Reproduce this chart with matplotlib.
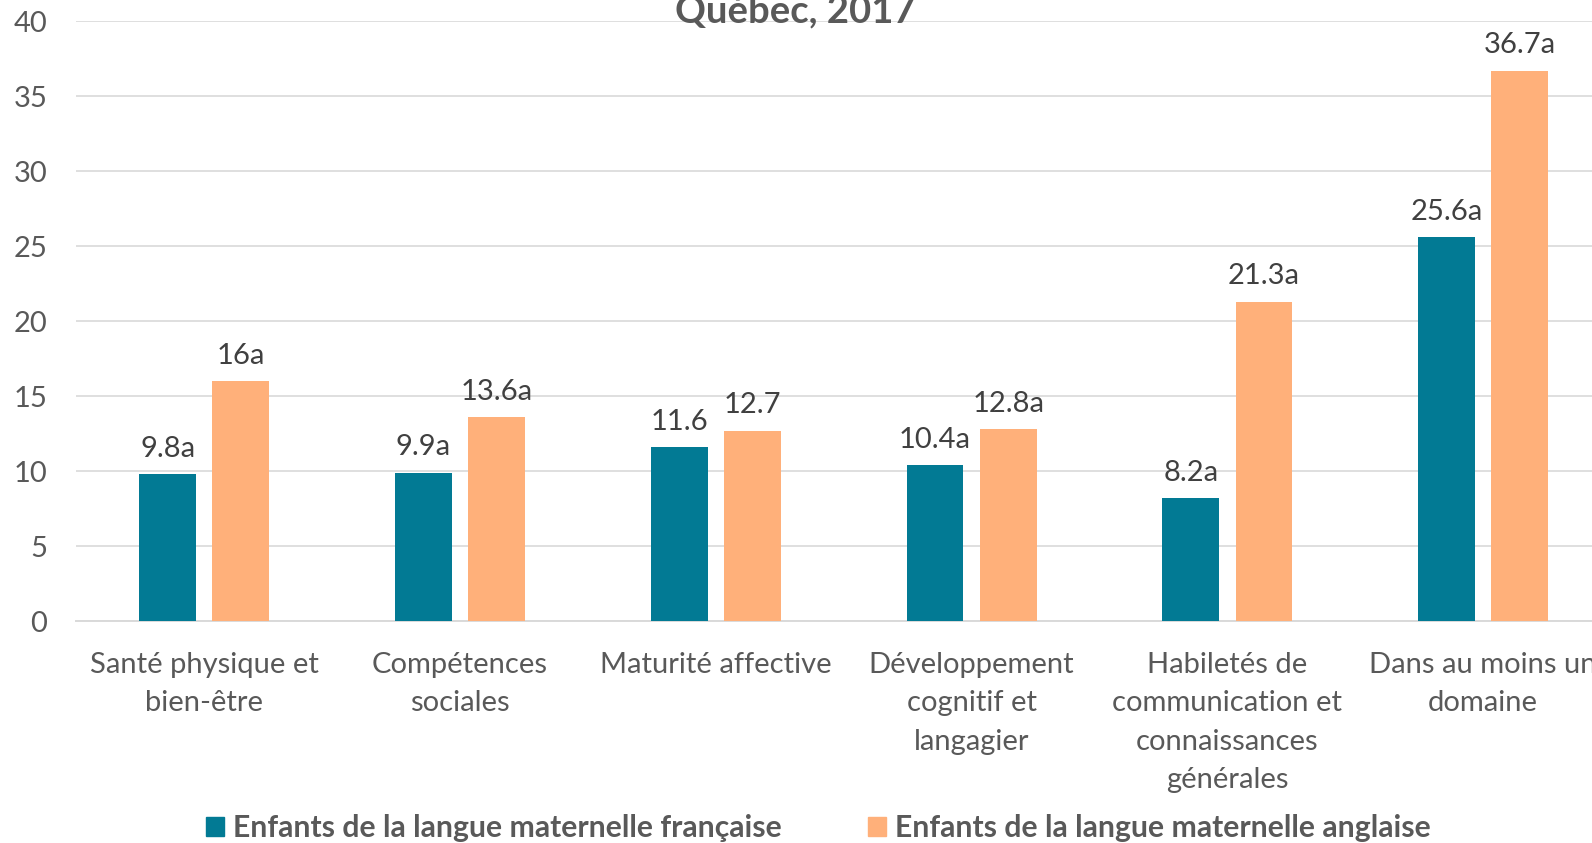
import numpy as np
import matplotlib.pyplot as plt
from matplotlib.patches import Patch

plt.rcParams['font.family'] = ['Lato', 'DejaVu Sans']

# DONNÉES

categories = [
    "Santé physique et\nbien-être",
    "Compétences\nsociales",
    "Maturité affective",
    "Développement\ncognitif et\nlangagier",
    "Habiletés de\ncommunication et\nconnaissances\ngénérales",
    "Dans au moins un\ndomaine",
]
francais = [9.8, 9.9, 11.6, 10.4, 8.2, 25.6]
anglais = [16, 13.6, 12.7, 12.8, 21.3, 36.7]
labels_fr = ["9.8a", "9.9a", "11.6", "10.4a", "8.2a", "25.6a"]
labels_en = ["16a", "13.6a", "12.7", "12.8a", "21.3a", "36.7a"]
series_names = [
    "Enfants de la langue maternelle française",
    "Enfants de la langue maternelle anglaise",
]

TEAL = "#027A94"
ORANGE = "#FFB07A"
GRIS = "#595959"

fig = plt.figure(figsize=(15.92, 8.43), dpi=100)
ax = fig.add_axes([0.048, 0.2633, 0.964, 0.7114])

x = np.arange(len(categories))
largeur = 0.222
decal = 0.143

barres_fr = ax.bar(x - decal, francais, largeur, color=TEAL, zorder=3)
barres_en = ax.bar(x + decal, anglais, largeur, color=ORANGE, zorder=3)

# valeurs au-dessus des barres
for barres, textes in [(barres_fr, labels_fr), (barres_en, labels_en)]:
    for barre, txt in zip(barres, textes):
        ax.annotate(
            txt,
            (barre.get_x() + barre.get_width() / 2, barre.get_height()),
            xytext=(0, 9), textcoords="offset points",
            ha="center", va="bottom", fontsize=21, color="#404040",
        )

ax.set_xlim(-0.5, 5.5)
ax.set_ylim(0, 40)
ax.set_yticks(range(0, 41, 5))
ax.set_xticks(x)
ax.set_xticklabels(categories, fontsize=21, color=GRIS, linespacing=1.58)
ax.tick_params(axis="y", length=0, pad=21, labelsize=21, labelcolor=GRIS)
ax.tick_params(axis="x", length=0, pad=22.5)

ax.grid(axis="y", color="#D9D9D9", linewidth=1.2, zorder=0)
for s in ["top", "right", "left"]:
    ax.spines[s].set_visible(False)
ax.spines["bottom"].set_color("#D9D9D9")
ax.spines["bottom"].set_linewidth(1.4)

# titre coupé en haut, comme dans l'original
fig.text(795 / 1592, 1 - 22 / 843, "Québec, 2017", ha="center",
         va="baseline", fontsize=27.5, fontweight="bold", color=GRIS)

handles = [Patch(color=TEAL), Patch(color=ORANGE)]
fig.legend(
    handles, series_names, loc="center left",
    bbox_to_anchor=(206 / 1592, 15 / 843), ncol=2, frameon=False,
    handlelength=0.6, handleheight=0.6, handletextpad=0.3,
    columnspacing=2.85, borderpad=0, borderaxespad=0,
    prop={"size": 21.7, "weight": "bold"}, labelcolor=GRIS,
)

fig.savefig("out.png", dpi=100)
